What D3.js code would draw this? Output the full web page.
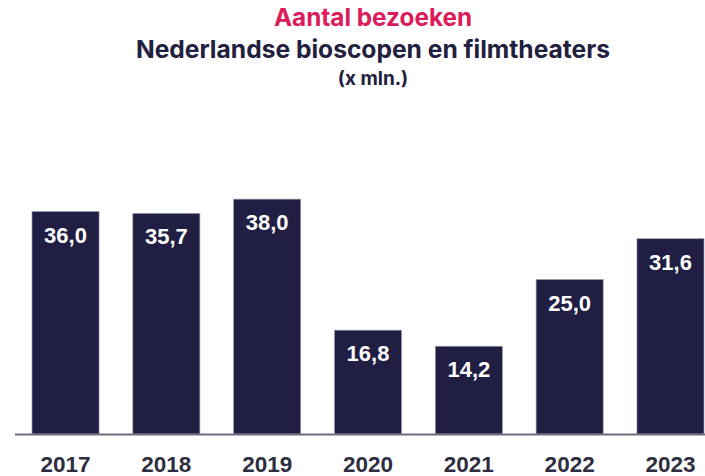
<!DOCTYPE html>
<html>
<head>
<meta charset="utf-8">
<script src="https://cdn.jsdelivr.net/npm/d3@7"></script>
<style>
  html, body { margin: 0; padding: 0; background: #ffffff; }
  svg { display: block; }
</style>
</head>
<body>
<div id="chart"></div>
<script>
const years = ["2017", "2018", "2019", "2020", "2021", "2022", "2023"];
const visits = [36.0, 35.7, 38.0, 16.8, 14.2, 25.0, 31.6];
const titleLines = ["Aantal bezoeken", "Nederlandse bioscopen en filmtheaters", "(x mln.)"];

const W = 705, H = 476;
const svg = d3.select("#chart").append("svg").attr("width", W).attr("height", H);

const x = d3.scaleBand().domain(years).range([32, 704]).paddingInner(0.335).paddingOuter(0);
const y = d3.scaleLinear().domain([0, 40]).range([434, 434 - 40 * 6.18]);

const cx = 373;
const tfont = "Inter, 'Open Sans', sans-serif";
svg.append("text").attr("x", cx).attr("y", 26).attr("text-anchor", "middle")
  .attr("font-family", tfont).attr("font-weight", 700)
  .attr("font-size", 24.3).attr("fill", "#dc1b5b").text(titleLines[0]);
svg.append("text").attr("x", cx).attr("y", 58).attr("text-anchor", "middle")
  .attr("font-family", tfont).attr("font-weight", 700)
  .attr("font-size", 24.6).attr("fill", "#22203f").text(titleLines[1]);
svg.append("text").attr("x", cx).attr("y", 85).attr("text-anchor", "middle")
  .attr("font-family", tfont).attr("font-weight", 700)
  .attr("font-size", 19).attr("fill", "#22203f").text(titleLines[2]);

const data = years.map((yr, i) => ({ year: yr, value: visits[i] }));

svg.append("g").selectAll("rect").data(data).join("rect")
  .attr("x", d => x(d.year))
  .attr("y", d => y(d.value))
  .attr("width", x.bandwidth())
  .attr("height", d => y(0) - y(d.value))
  .attr("fill", "#201e42")
  .attr("stroke", "#9a9aab").attr("stroke-width", 0.7);

svg.append("g").selectAll("text").data(data).join("text")
  .attr("x", d => x(d.year) + x.bandwidth() / 2)
  .attr("y", d => y(d.value) + 31)
  .attr("text-anchor", "middle")
  .attr("font-family", "'Liberation Sans', Arial, sans-serif").attr("font-weight", 700)
  .attr("font-size", 22).attr("fill", "#ffffff")
  .text(d => d.value.toFixed(1).replace(".", ","));

// x axis
const xAxis = d3.axisBottom(x).tickSize(0).tickPadding(0);
const gx = svg.append("g").attr("transform", `translate(0, ${y(0)})`).call(xAxis);
gx.select(".domain").remove();
gx.append("line").attr("x1", 15).attr("x2", W).attr("y1", 0.5).attr("y2", 0.5)
  .attr("stroke", "#6e6e80").attr("stroke-width", 2);
gx.selectAll(".tick text")
  .attr("dy", 0).attr("y", 38)
  .attr("font-family", "'Liberation Sans', Arial, sans-serif").attr("font-weight", 700)
  .attr("font-size", 22.5).attr("fill", "#2e2e40");
</script>
</body>
</html>
